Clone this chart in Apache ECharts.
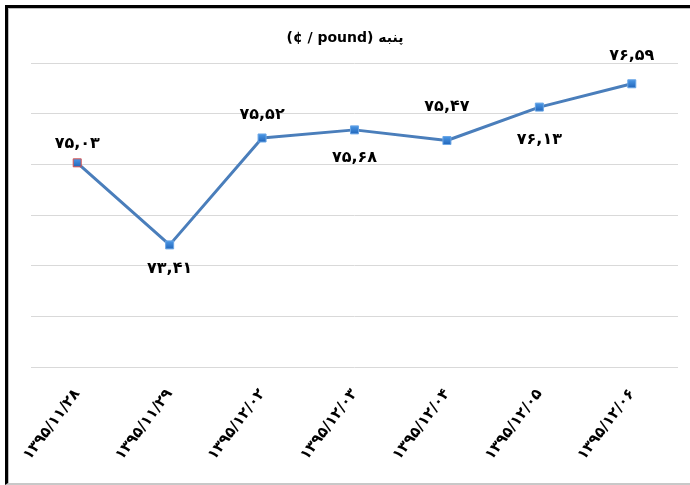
<!DOCTYPE html>
<html lang="fa">
<head>
<meta charset="utf-8">
<title>پنبه</title>
<script src="https://cdn.jsdelivr.net/npm/echarts@6/dist/echarts.min.js"></script>
<style>
  html, body { margin: 0; padding: 0; background: #fff; overflow: hidden; }
  #chart { width: 690px; height: 485px; }
  .frame {
    position: absolute; left: 5px; top: 5px; width: 682px; height: 475px;
    border-left: 3px solid #000; border-top: 3px solid #000;
    border-bottom: 2px solid #c8c8c8;
    box-shadow: inset 1px 1px 0 #bdbdbd;
    pointer-events: none;
  }
</style>
</head>
<body>
<div id="chart"></div>
<div class="frame"></div>
<script type="text/javascript">
  let categories = ['۱۳۹۵/۱۱/۲۸', '۱۳۹۵/۱۱/۲۹', '۱۳۹۵/۱۲/۰۲', '۱۳۹۵/۱۲/۰۳', '۱۳۹۵/۱۲/۰۴', '۱۳۹۵/۱۲/۰۵', '۱۳۹۵/۱۲/۰۶'];
  let values = [75.03, 73.41, 75.52, 75.68, 75.47, 76.13, 76.59];
  let valueLabels = ['۷۵,۰۳', '۷۳,۴۱', '۷۵,۵۲', '۷۵,۶۸', '۷۵,۴۷', '۷۶,۱۳', '۷۶,۵۹'];
  let labelSide = ['top', 'bottom', 'top', 'bottom', 'top', 'bottom', 'top'];
  let labelGap = [6, 11, 11, 15, 21, 20, 15];

  let seriesData = values.map((v, i) => ({
    value: v,
    label: {
      position: labelSide[i],
      distance: labelGap[i],
      formatter: valueLabels[i]
    },
    itemStyle: i === 0 ? { borderColor: '#d9534f' } : {}
  }));

  let Chart = echarts.init(document.getElementById('chart'));

  let option = {
    animation: false,
    title: {
      text: '(¢ / pound) پنبه',
      left: 'center',
      top: 26,
      textStyle: { fontFamily: 'DejaVu Sans', fontSize: 14, fontWeight: 'bold', color: '#000' }
    },
    grid: { left: 31, right: 12, top: 63, bottom: 118 },
    xAxis: {
      type: 'category',
      data: categories,
      axisLine: { show: false },
      axisTick: { show: false },
      axisLabel: {
        rotate: 53,
        margin: 24,
        interval: 0,
        fontFamily: 'DejaVu Sans',
        fontSize: 15,
        fontWeight: 'bold',
        color: '#000'
      }
    },
    yAxis: {
      type: 'value',
      min: 71,
      max: 77,
      interval: 1,
      axisLabel: { show: false },
      axisLine: { show: false },
      axisTick: { show: false },
      splitLine: { lineStyle: { color: '#d9d9d9', width: 1 } }
    },
    series: [
      {
        name: 'cotton',
        type: 'line',
        data: seriesData,
        symbol: 'rect',
        symbolSize: 8,
        lineStyle: { color: '#4a7ebb', width: 3 },
        itemStyle: {
          color: new echarts.graphic.LinearGradient(0, 0, 0, 1, [
            { offset: 0, color: '#4f9be8' },
            { offset: 1, color: '#1f63b8' }
          ]),
          borderColor: '#6aa6e6',
          borderWidth: 1
        },
        label: {
          show: true,
          fontFamily: 'DejaVu Sans',
          fontSize: 16,
          fontWeight: 'bold',
          color: '#000'
        }
      }
    ]
  };

  Chart.setOption(option);
</script>
</body>
</html>
